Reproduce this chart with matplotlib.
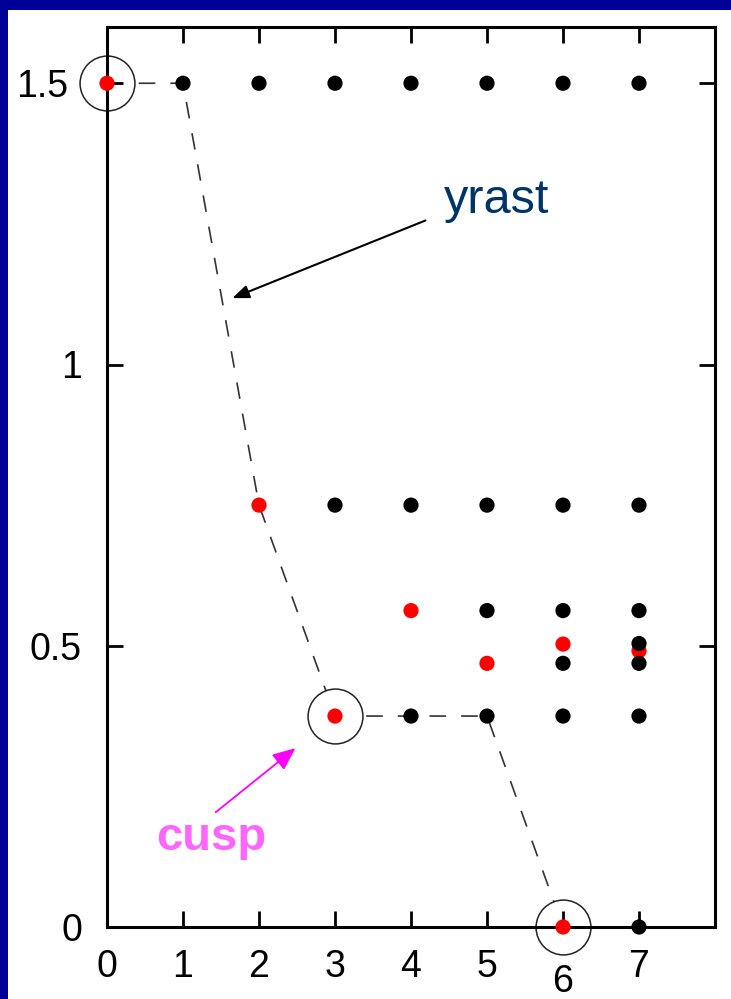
import matplotlib
matplotlib.use("Agg")
import matplotlib.pyplot as plt
from matplotlib.patches import Rectangle
from matplotlib.transforms import ScaledTranslation

plt.rcParams['font.family'] = ['Liberation Sans', 'DejaVu Sans']

# ---- data ----
black_x = [1, 2, 3, 4, 5, 6, 7,
           3, 4, 5, 6, 7,
           5, 6, 7,
           7,
           6, 7,
           4, 5, 6, 7,
           7]
black_y = [1.5, 1.5, 1.5, 1.5, 1.5, 1.5, 1.5,
           0.75, 0.75, 0.75, 0.75, 0.75,
           0.5625, 0.5625, 0.5625,
           0.504,
           0.46875, 0.46875,
           0.375, 0.375, 0.375, 0.375,
           0.0]
red_x = [0, 2, 4, 6, 7, 5, 3, 6]
red_y = [1.5, 0.75, 0.5625, 0.503, 0.491, 0.46875, 0.375, 0.0]

yrast_x = [0, 1, 2, 3, 5, 6]
yrast_y = [1.5, 1.5, 0.75, 0.375, 0.375, 0.0]

circle_x = [0, 3, 6]
circle_y = [1.5, 0.375, 0.0]

x_ticks = [0, 1, 2, 3, 4, 5, 6, 7]
x_labels = ['0', '1', '2', '3', '4', '5', '6', '7']
y_ticks = [0, 0.5, 1, 1.5]
y_labels = ['0', '0.5', '1', '1.5']

W, H = 731, 999
fig = plt.figure(figsize=(W / 100, H / 100), dpi=100, facecolor='white')

# blue slide border (top and left)
fig.patches.append(Rectangle((0, 1 - 10 / H), 1, 10 / H, transform=fig.transFigure,
                             facecolor='#000099', edgecolor='none', zorder=0))
fig.patches.append(Rectangle((0, 0), 8 / W, 1, transform=fig.transFigure,
                             facecolor='#000099', edgecolor='none', zorder=0))

ax = fig.add_axes([107 / W, 1 - 927 / H, (715 - 107) / W, (927 - 27) / H])
ax.set_xlim(0, 8)
ax.set_ylim(0, 1.6)

# yrast dashed line
ax.plot(yrast_x, yrast_y, color='#333333', lw=1.2, dashes=(10, 9), zorder=1.0)

# circles (white filled, hide line inside)
ax.scatter(circle_x, circle_y, s=1560, facecolor='white', edgecolor='#222222',
           linewidths=1.1, zorder=1.2, clip_on=False)

# points
ax.scatter(red_x, red_y, s=120, color='#ff0000', edgecolor='none', zorder=3, clip_on=False)
ax.scatter(black_x, black_y, s=120, color='black', edgecolor='none', zorder=3.1, clip_on=False)

# spines & ticks
for sp in ax.spines.values():
    sp.set_linewidth(2.2)
    sp.set_zorder(2.5)
ax.set_xticks(x_ticks)
ax.set_xticklabels(x_labels)
ax.set_yticks(y_ticks)
ax.set_yticklabels(y_labels)
ax.tick_params(axis='both', direction='in', length=11.5, width=2, labelsize=27,
               top=True, right=True, colors='black')
ax.tick_params(axis='x', pad=16)
ax.tick_params(axis='y', pad=18)

# shift labels that would collide with the circles
for lab in ax.get_xticklabels():
    if lab.get_text() == '6':
        lab.set_transform(lab.get_transform() + ScaledTranslation(0, -15 / 100, fig.dpi_scale_trans))
for lab in ax.get_yticklabels():
    if lab.get_text() == '1.5':
        lab.set_transform(lab.get_transform() + ScaledTranslation(-14 / 100, 0, fig.dpi_scale_trans))

# annotations
ax.annotate('', xy=(1.65, 1.118), xytext=(4.19, 1.256),
            arrowprops=dict(arrowstyle='-|>,head_length=1.0,head_width=0.4',
                            color='black', lw=1.5, shrinkA=0, shrinkB=0), zorder=4)
ax.text(4.43, 1.269, 'yrast', fontsize=35, color='#003366', ha='left', va='baseline')

ax.annotate('', xy=(2.48, 0.318), xytext=(1.43, 0.204),
            arrowprops=dict(arrowstyle='-|>,head_length=1.4,head_width=0.6',
                            color='#ff00ff', lw=1.3, shrinkA=0, shrinkB=0), zorder=4)
ax.text(0.65, 0.137, 'cusp', fontsize=34, fontweight='bold', color='#ff66ff',
        ha='left', va='baseline')

fig.savefig('out.png', dpi=100, facecolor='white')
